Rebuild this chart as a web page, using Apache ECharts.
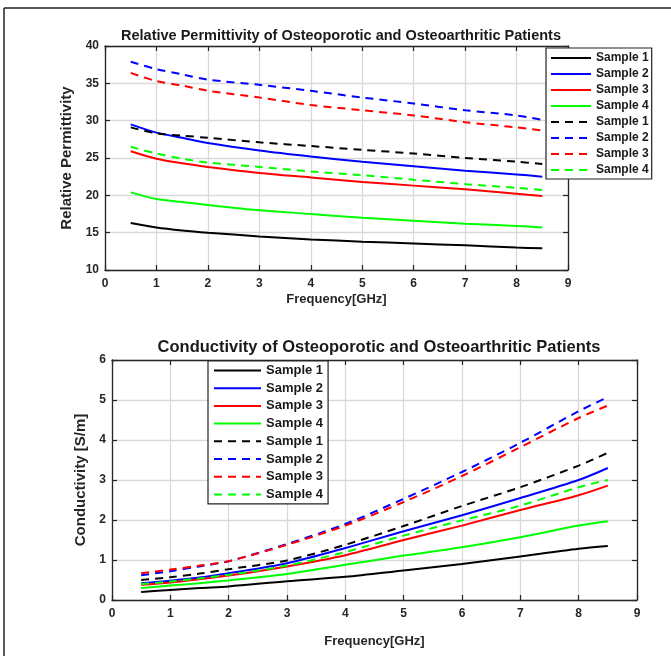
<!DOCTYPE html>
<html>
<head>
<meta charset="utf-8">
<script src="https://cdn.jsdelivr.net/npm/echarts@6/dist/echarts.min.js"></script>
<style>
html,body{margin:0;padding:0;background:#fff;}
#chart{width:671px;height:656px;}
</style>
</head>
<body>
<div id="chart"></div>
<script>
// ---------- data ----------
var freq = [0.5, 1, 1.5, 2, 3, 4, 5, 6, 7, 8, 8.5];
var sampleNames = ['Sample 1', 'Sample 2', 'Sample 3', 'Sample 4'];
var xTicks = [0, 1, 2, 3, 4, 5, 6, 7, 8, 9];
var permTicks = [10, 15, 20, 25, 30, 35, 40];
var condTicks = [0, 1, 2, 3, 4, 5, 6];

// Relative permittivity – osteoporotic (solid)
var permSolid1 = [16.3, 15.7, 15.3, 15.0, 14.5, 14.1, 13.8, 13.55, 13.3, 13.0, 12.9];
var permSolid2 = [29.5, 28.4, 27.7, 27.0, 26.0, 25.2, 24.5, 23.9, 23.3, 22.8, 22.5];
var permSolid3 = [25.9, 24.9, 24.3, 23.8, 23.0, 22.4, 21.8, 21.3, 20.8, 20.2, 19.9];
var permSolid4 = [20.4, 19.5, 19.1, 18.7, 18.0, 17.5, 17.0, 16.6, 16.2, 15.9, 15.7];
// Relative permittivity – osteoarthritic (dashed)
var permDash1 = [29.1, 28.3, 28.0, 27.7, 27.1, 26.6, 26.1, 25.6, 25.0, 24.5, 24.2];
var permDash2 = [37.9, 36.9, 36.2, 35.5, 34.8, 34.0, 33.1, 32.3, 31.4, 30.7, 30.1];
var permDash3 = [36.4, 35.3, 34.7, 34.0, 33.1, 32.1, 31.4, 30.7, 29.8, 29.1, 28.7];
var permDash4 = [26.5, 25.6, 24.9, 24.4, 23.8, 23.2, 22.7, 22.1, 21.5, 21.0, 20.7];

// Conductivity – osteoporotic (solid)
var condSolid1 = [0.20, 0.25, 0.30, 0.34, 0.47, 0.58, 0.74, 0.90, 1.09, 1.28, 1.35];
var condSolid2 = [0.42, 0.48, 0.56, 0.67, 0.92, 1.30, 1.72, 2.12, 2.55, 3.00, 3.30];
var condSolid3 = [0.38, 0.44, 0.52, 0.61, 0.84, 1.12, 1.50, 1.86, 2.25, 2.62, 2.86];
var condSolid4 = [0.30, 0.36, 0.42, 0.49, 0.65, 0.88, 1.11, 1.32, 1.57, 1.86, 1.97];
// Conductivity – osteoarthritic (dashed)
var condDash1 = [0.50, 0.57, 0.66, 0.77, 0.99, 1.38, 1.85, 2.35, 2.82, 3.36, 3.68];
var condDash2 = [0.62, 0.72, 0.84, 0.97, 1.40, 1.90, 2.53, 3.20, 3.93, 4.72, 5.07];
var condDash3 = [0.67, 0.76, 0.86, 0.97, 1.38, 1.86, 2.45, 3.10, 3.82, 4.55, 4.86];
var condDash4 = [0.40, 0.46, 0.54, 0.63, 0.86, 1.20, 1.61, 1.99, 2.36, 2.82, 3.00];

var colors = ['#000000', '#0000ff', '#ff0000', '#00ff00'];
// ---------- build ----------
var DASH_TAG = ' (dashed)';
function pairs(ys) { return freq.map(function (f, i) { return [f, ys[i]]; }); }

var permSets = [[permSolid1, permSolid2, permSolid3, permSolid4], [permDash1, permDash2, permDash3, permDash4]];
var condSets = [[condSolid1, condSolid2, condSolid3, condSolid4], [condDash1, condDash2, condDash3, condDash4]];

var series = [];
var legendNames = [];
[0, 1].forEach(function (d) {
  sampleNames.forEach(function (n, i) {
    legendNames.push(d ? n + DASH_TAG : n);
  });
});
function addSeries(sets, gridIdx) {
  [0, 1].forEach(function (d) {
    sets[d].forEach(function (ys, i) {
      series.push({
        type: 'line',
        name: d ? sampleNames[i] + DASH_TAG : sampleNames[i],
        xAxisIndex: gridIdx * 2,
        yAxisIndex: gridIdx * 2,
        data: pairs(ys),
        smooth: 0.3,
        symbol: 'none',
        silent: true,
        animation: false,
        lineStyle: { color: colors[i], width: 2, type: d ? [8, 6] : 'solid' },
        itemStyle: { color: colors[i] }
      });
    });
  });
}
addSeries(permSets, 0);
addSeries(condSets, 1);

var AX = '#262626';
var GRIDC = '#d9d9d9';
var FONT = 'Liberation Sans, Arial, sans-serif';

function xMain(grid, nameGap) {
  return {
    type: 'value', gridIndex: grid, min: xTicks[0], max: xTicks[xTicks.length - 1], interval: 1,
    name: 'Frequency[GHz]', nameLocation: 'middle', nameGap: nameGap,
    nameTextStyle: { fontFamily: FONT, fontWeight: 'bold', fontSize: 13, color: AX },
    axisLine: { onZero: false, lineStyle: { color: AX, width: 1.3 } },
    axisTick: { inside: true, length: 5, lineStyle: { color: AX, width: 1.2 } },
    axisLabel: { fontFamily: FONT, fontWeight: 'bold', fontSize: 12, color: AX, margin: 8 },
    splitLine: { show: true, lineStyle: { color: GRIDC, width: 1.3 } }
  };
}
function xMirror(grid) {
  return {
    type: 'value', gridIndex: grid, position: 'top', min: xTicks[0], max: xTicks[xTicks.length - 1], interval: 1,
    axisLine: { onZero: false, lineStyle: { color: AX, width: 1.3 } },
    axisTick: { inside: true, length: 5, lineStyle: { color: AX, width: 1.2 } },
    axisLabel: { show: false }, splitLine: { show: false }
  };
}
function yMain(grid, ticks, interval, name, nameGap, nameSize) {
  return {
    type: 'value', gridIndex: grid, min: ticks[0], max: ticks[ticks.length - 1], interval: interval,
    name: name, nameLocation: 'middle', nameGap: nameGap,
    nameTextStyle: { fontFamily: FONT, fontWeight: 'bold', fontSize: nameSize, color: AX },
    axisLine: { onZero: false, lineStyle: { color: AX, width: 1.3 } },
    axisTick: { inside: true, length: 5, lineStyle: { color: AX, width: 1.2 } },
    axisLabel: { fontFamily: FONT, fontWeight: 'bold', fontSize: 12, color: AX, margin: 6 },
    splitLine: { show: true, lineStyle: { color: GRIDC, width: 1.3 } }
  };
}
function yMirror(grid, ticks, interval) {
  return {
    type: 'value', gridIndex: grid, position: 'right', min: ticks[0], max: ticks[ticks.length - 1], interval: interval,
    axisLine: { show: true, onZero: false, lineStyle: { color: AX, width: 1.3 } },
    axisTick: { show: true, inside: true, length: 5, lineStyle: { color: AX, width: 1.2 } },
    axisLabel: { show: false }, splitLine: { show: false }
  };
}

var option = {
  backgroundColor: '#ffffff',
  animation: false,
  title: [
    { text: 'Relative Permittivity of Osteoporotic and Osteoarthritic Patients', left: 336, top: 23, textAlign: 'center',
      textStyle: { fontFamily: FONT, fontWeight: 'bold', fontSize: 14.5, color: '#1a1a1a' } },
    { text: 'Conductivity of Osteoporotic and Osteoarthritic Patients', left: 374, top: 334, textAlign: 'center',
      textStyle: { fontFamily: FONT, fontWeight: 'bold', fontSize: 16.5, color: '#1a1a1a' } }
  ],
  grid: [
    { left: 105, top: 46, width: 463, height: 224, containLabel: false },
    { left: 112, top: 360, width: 525, height: 240, containLabel: false }
  ],
  xAxis: [xMain(0, 23), xMirror(0), xMain(1, 35), xMirror(1)],
  yAxis: [
    yMain(0, permTicks, 5, 'Relative Permittivity', 21, 15),
    yMirror(0, permTicks, 5),
    yMain(1, condTicks, 1, 'Conductivity [S/m]', 21, 15),
    yMirror(1, condTicks, 1)
  ],
  legend: [
    { data: legendNames, orient: 'vertical', left: 546, top: 48, itemWidth: 40, itemHeight: 14, itemGap: 4,
      padding: [4, 3, 3, 4], backgroundColor: '#ffffff', borderColor: '#222', borderWidth: 1.2,
      selectedMode: false, formatter: function (n) { return n.replace(DASH_TAG, ''); },
      itemStyle: { opacity: 0 }, lineStyle: { opacity: 1 },
      textStyle: { fontFamily: FONT, fontWeight: 'bold', fontSize: 12, color: '#1a1a1a' } },
    { data: legendNames, orient: 'vertical', left: 208, top: 361, itemWidth: 47, itemHeight: 15, itemGap: 4.7,
      padding: [3, 5, 3, 5], backgroundColor: '#ffffff', borderColor: '#222', borderWidth: 1.2,
      selectedMode: false, formatter: function (n) { return n.replace(DASH_TAG, ''); },
      itemStyle: { opacity: 0 }, lineStyle: { opacity: 1 },
      textStyle: { fontFamily: FONT, fontWeight: 'bold', fontSize: 13, color: '#1a1a1a' } }
  ],
  graphic: [
    { type: 'line', shape: { x1: 4, y1: 8, x2: 680, y2: 8 }, style: { stroke: '#222', lineWidth: 1.5 }, silent: true },
    { type: 'line', shape: { x1: 4, y1: 8, x2: 4, y2: 670 }, style: { stroke: '#222', lineWidth: 1.5 }, silent: true }
  ],
  series: series
};

var chart = echarts.init(document.getElementById('chart'), null, { renderer: 'canvas' });
chart.setOption(option);
</script>
</body>
</html>
